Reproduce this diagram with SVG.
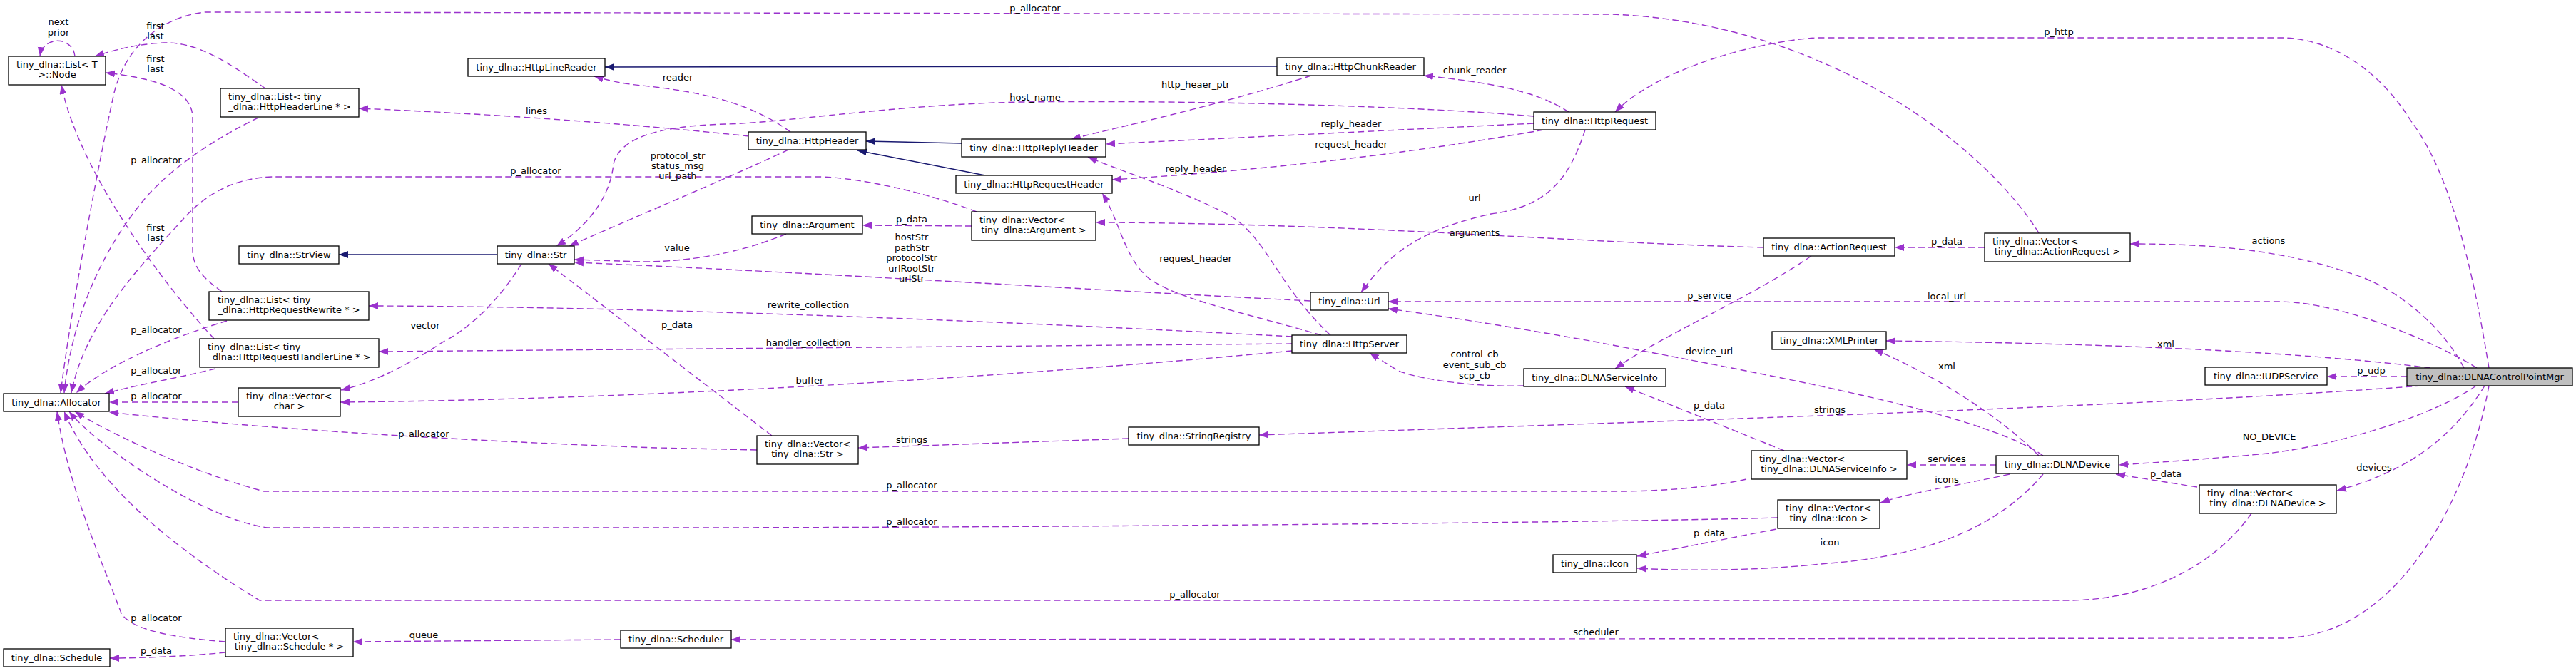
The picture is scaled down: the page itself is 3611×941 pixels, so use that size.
<svg xmlns="http://www.w3.org/2000/svg" width="3611" height="941" viewBox="0 0 3611 941">
<defs>
<marker id="ap" markerUnits="userSpaceOnUse" markerWidth="14" markerHeight="11" refX="13" refY="5" orient="auto"><path d="M0,0 L13,5 L0,10 z" fill="#9a32cd"/></marker>
<marker id="ab" markerUnits="userSpaceOnUse" markerWidth="14" markerHeight="11" refX="13" refY="5" orient="auto"><path d="M0,0 L13,5 L0,10 z" fill="#191970"/></marker>
</defs>
<style>
.nd rect{fill:#fff;stroke:#000;stroke-width:1.3}
.nd.root rect{fill:#bfbfbf}
.e{fill:none;stroke:#9a32cd;stroke-width:1.4;stroke-dasharray:9,5;marker-end:url(#ap)}
.i{fill:none;stroke:#191970;stroke-width:1.4;marker-end:url(#ab)}
text{font-family:"DejaVu Sans","Liberation Sans",sans-serif;font-size:13px;fill:#000}
.m{text-anchor:middle}
</style>
<rect x="0" y="0" width="3611" height="941" fill="#fff"/>
<g id="edges">
<path class="e" d="M105,79 C102,50 60,50 56,79"/>
<path class="e" d="M372,124 C330,95 280,58 230,60 C190,62 160,70 133,79"/>
<path class="e" d="M311,409 C285,390 270,375 270,350 L270,165 C270,120 200,108 148,102"/>
<path class="e" d="M300,475 C230,400 110,240 86,119"/>
<path class="e" d="M362,165 C300,195 230,240 190,295 C140,360 100,450 90,551"/>
<path class="e" d="M318,450 C250,470 150,510 107,551"/>
<path class="e" d="M302,517 C250,530 190,540 147,552"/>
<path class="e" d="M334,564 L153,564"/>
<path class="e" d="M1061,631 L920,628 C700,620 400,605 153,578"/>
<path class="e" d="M2448,672 C2400,683 2330,689 2269,689 L370,689 C260,660 140,600 105,577"/>
<path class="e" d="M2492,726 C2300,732 1500,740 900,740 L375,740 C280,727 130,620 97,577"/>
<path class="e" d="M3156,720 C3100,800 3000,842 2899,842 L364,842 C200,743 120,650 90,577"/>
<path class="e" d="M316,900 C250,895 185,885 170,860 C140,780 95,680 80,577"/>
<path class="e" d="M2858,327 C2780,200 2550,30 2258,20 L287,17 C220,25 175,70 160,130 C140,220 100,430 85,551"/>
<path class="e" d="M1369,297 C1300,270 1200,248 1146,248 L381,248 C330,250 290,270 257,307 C200,370 120,450 100,551"/>
<path class="e" d="M1050,191 C900,175 700,160 503,152"/>
<path class="e" d="M1108,185 C1060,150 1000,130 900,120 C870,117 850,112 833,107"/>
<path class="i" d="M1790,93 L848,94"/>
<path class="i" d="M1348,201 L1214,198"/>
<path class="i" d="M1381,246 L1202,211"/>
<path class="i" d="M697,357 L475,357"/>
<path class="e" d="M1838,106 C1700,150 1560,180 1502,195"/>
<path class="e" d="M2150,163 C2000,150 1700,140 1430,143 C1250,147 1100,172 1017,174 C950,176 870,185 860,230 C855,280 820,320 780,345"/>
<path class="e" d="M1105,210 C1020,250 900,300 798,345"/>
<path class="e" d="M1102,328 C1050,350 980,367 900,367 L805,364"/>
<path class="e" d="M1837,422 C1500,405 1100,380 805,368"/>
<path class="e" d="M1082,611 L769,370"/>
<path class="e" d="M731,370 C700,420 660,460 620,480 C560,520 510,540 478,547"/>
<path class="e" d="M1811,492 C1400,530 900,560 477,564"/>
<path class="e" d="M1811,472 C1400,450 900,430 517,429"/>
<path class="e" d="M1811,482 L531,493"/>
<path class="e" d="M1865,470 C1790,400 1775,330 1720,300 C1640,260 1570,240 1525,220"/>
<path class="e" d="M1852,470 C1750,440 1650,420 1610,390 C1575,360 1570,310 1545,271"/>
<path class="e" d="M2150,173 C1900,185 1700,195 1550,202"/>
<path class="e" d="M2164,182 C1950,220 1750,240 1559,252"/>
<path class="e" d="M2199,157 C2150,125 2080,115 1996,106"/>
<path class="e" d="M3489,516 C3470,400 3440,250 3380,170 C3330,90 3260,53 3197,53 L2545,53 C2450,60 2320,100 2264,157"/>
<path class="e" d="M2222,182 C2200,250 2170,290 2090,300 C2000,320 1950,350 1908,410"/>
<path class="e" d="M3472,516 C3440,495 3300,425 3197,423 L1946,423"/>
<path class="e" d="M2864,639 C2780,580 2500,530 2240,480 C2100,455 2000,440 1946,433"/>
<path class="e" d="M2472,347 C2200,340 1900,313 1536,312"/>
<path class="e" d="M1362,317 L1209,316"/>
<path class="e" d="M2539,359 C2450,420 2330,470 2264,517"/>
<path class="e" d="M2501,632 L2278,542"/>
<path class="e" d="M2136,541 C2080,543 2000,535 1960,520 L1920,495"/>
<path class="e" d="M3454,516 C3420,450 3350,400 3300,385 C3200,350 3100,342 2986,342"/>
<path class="e" d="M2782,347 L2656,347"/>
<path class="e" d="M3407,516 C3200,490 2900,481 2644,478"/>
<path class="e" d="M2858,639 C2800,580 2700,520 2627,490"/>
<path class="e" d="M3395,541 C3000,570 2500,585 1765,610"/>
<path class="e" d="M1582,615 L1203,628"/>
<path class="e" d="M3374,528 L3262,528"/>
<path class="e" d="M3471,541 C3400,590 3250,630 3167,637 C3080,645 3000,650 2970,652"/>
<path class="e" d="M3080,683 L2966,665"/>
<path class="e" d="M3483,541 C3440,610 3380,660 3276,688"/>
<path class="e" d="M2798,652 L2673,652"/>
<path class="e" d="M2817,665 C2750,680 2680,690 2636,705"/>
<path class="e" d="M2490,742 L2295,780"/>
<path class="e" d="M2864,665 C2800,740 2700,780 2563,790 C2450,802 2350,800 2295,797"/>
<path class="e" d="M3489,541 C3460,700 3360,895 3197,895 L1025,897"/>
<path class="e" d="M870,897 L495,900"/>
<path class="e" d="M316,915 C270,920 200,923 154,923"/>
</g>
<g id="labels">
<text class="m" x="82" y="35">next</text><text class="m" x="82" y="50">prior</text>
<text class="m" x="218" y="41">first</text><text class="m" x="218" y="55">last</text>
<text class="m" x="218" y="87">first</text><text class="m" x="218" y="101">last</text>
<text class="m" x="218" y="324">first</text><text class="m" x="218" y="338">last</text>
<text class="m" x="219" y="229">p_allocator</text>
<text class="m" x="219" y="467">p_allocator</text>
<text class="m" x="219" y="524">p_allocator</text>
<text class="m" x="219" y="560">p_allocator</text>
<text class="m" x="594" y="613">p_allocator</text>
<text class="m" x="219" y="871">p_allocator</text>
<text class="m" x="219" y="917">p_data</text>
<text class="m" x="594" y="895">queue</text>
<text class="m" x="596" y="461">vector</text>
<text class="m" x="752" y="160">lines</text>
<text class="m" x="950" y="113">reader</text>
<text class="m" x="1451" y="16">p_allocator</text>
<text class="m" x="751" y="244">p_allocator</text>
<text class="m" x="950" y="223">protocol_str</text><text class="m" x="950" y="237">status_msg</text><text class="m" x="950" y="251">url_path</text>
<text class="m" x="1451" y="141">host_name</text>
<text class="m" x="1676" y="123">http_heaer_ptr</text>
<text class="m" x="1676" y="241">reply_header</text>
<text class="m" x="1676" y="367">request_header</text>
<text class="m" x="949" y="352">value</text>
<text class="m" x="1278" y="312">p_data</text>
<text class="m" x="1278" y="337">hostStr</text><text class="m" x="1278" y="352">pathStr</text><text class="m" x="1278" y="366">protocolStr</text><text class="m" x="1278" y="381">urlRootStr</text><text class="m" x="1278" y="395">urlStr</text>
<text class="m" x="1133" y="432">rewrite_collection</text>
<text class="m" x="949" y="460">p_data</text>
<text class="m" x="1133" y="485">handler_collection</text>
<text class="m" x="1135" y="538">buffer</text>
<text class="m" x="1278" y="621">strings</text>
<text class="m" x="1278" y="685">p_allocator</text>
<text class="m" x="1278" y="736">p_allocator</text>
<text class="m" x="1675" y="838">p_allocator</text>
<text class="m" x="2067" y="103">chunk_reader</text>
<text class="m" x="1894" y="178">reply_header</text>
<text class="m" x="1894" y="207">request_header</text>
<text class="m" x="2067" y="282">url</text>
<text class="m" x="2067" y="331">arguments</text>
<text class="m" x="2396" y="419">p_service</text>
<text class="m" x="2729" y="420">local_url</text>
<text class="m" x="2396" y="497">device_url</text>
<text class="m" x="2067" y="501">control_cb</text><text class="m" x="2067" y="516">event_sub_cb</text><text class="m" x="2067" y="531">scp_cb</text>
<text class="m" x="2396" y="573">p_data</text>
<text class="m" x="2565" y="579">strings</text>
<text class="m" x="2396" y="752">p_data</text>
<text class="m" x="2565" y="765">icon</text>
<text class="m" x="2237" y="891">scheduler</text>
<text class="m" x="2886" y="49">p_http</text>
<text class="m" x="2729" y="343">p_data</text>
<text class="m" x="3180" y="342">actions</text>
<text class="m" x="3036" y="487">xml</text>
<text class="m" x="2729" y="518">xml</text>
<text class="m" x="3324" y="524">p_udp</text>
<text class="m" x="2729" y="648">services</text>
<text class="m" x="2729" y="677">icons</text>
<text class="m" x="3181" y="617">NO_DEVICE</text>
<text class="m" x="3036" y="669">p_data</text>
<text class="m" x="3328" y="660">devices</text>
</g>
<g id="n_node" class="nd"><rect x="12" y="79" width="136" height="40"/><text x="23" y="95">tiny_dlna::List&lt; T</text><text class="m" x="80" y="109">&gt;::Node</text></g>
<g id="n_headerline" class="nd"><rect x="309" y="124" width="194" height="40"/><text x="320" y="140">tiny_dlna::List&lt; tiny</text><text class="m" x="406" y="154">_dlna::HttpHeaderLine * &gt;</text></g>
<g id="n_linereader" class="nd"><rect x="656" y="82" width="192" height="25"/><text class="m" x="752" y="99">tiny_dlna::HttpLineReader</text></g>
<g id="n_chunkreader" class="nd"><rect x="1790" y="81" width="206" height="25"/><text class="m" x="1893" y="98">tiny_dlna::HttpChunkReader</text></g>
<g id="n_httpheader" class="nd"><rect x="1049" y="185" width="165" height="25"/><text class="m" x="1131.5" y="202">tiny_dlna::HttpHeader</text></g>
<g id="n_replyheader" class="nd"><rect x="1348" y="195" width="202" height="25"/><text class="m" x="1449" y="212">tiny_dlna::HttpReplyHeader</text></g>
<g id="n_requestheader" class="nd"><rect x="1340" y="246" width="219" height="25"/><text class="m" x="1449.5" y="263">tiny_dlna::HttpRequestHeader</text></g>
<g id="n_argument" class="nd"><rect x="1054" y="303" width="155" height="25"/><text class="m" x="1131.5" y="320">tiny_dlna::Argument</text></g>
<g id="n_vargument" class="nd"><rect x="1362" y="297" width="174" height="40"/><text x="1373" y="313">tiny_dlna::Vector&lt;</text><text class="m" x="1449" y="327"> tiny_dlna::Argument &gt;</text></g>
<g id="n_strview" class="nd"><rect x="335" y="345" width="140" height="25"/><text class="m" x="405" y="362">tiny_dlna::StrView</text></g>
<g id="n_str" class="nd"><rect x="697" y="345" width="108" height="25"/><text class="m" x="751" y="362">tiny_dlna::Str</text></g>
<g id="n_url" class="nd"><rect x="1837" y="410" width="109" height="25"/><text class="m" x="1891.5" y="427">tiny_dlna::Url</text></g>
<g id="n_rewrite" class="nd"><rect x="293" y="409" width="224" height="40"/><text x="305" y="425">tiny_dlna::List&lt; tiny</text><text class="m" x="405" y="439">_dlna::HttpRequestRewrite * &gt;</text></g>
<g id="n_handlerline" class="nd"><rect x="280" y="475" width="251" height="40"/><text x="291" y="491">tiny_dlna::List&lt; tiny</text><text class="m" x="405.5" y="505">_dlna::HttpRequestHandlerLine * &gt;</text></g>
<g id="n_httpserver" class="nd"><rect x="1811" y="470" width="161" height="25"/><text class="m" x="1891.5" y="487">tiny_dlna::HttpServer</text></g>
<g id="n_httprequest" class="nd"><rect x="2150" y="157" width="171" height="25"/><text class="m" x="2235.5" y="174">tiny_dlna::HttpRequest</text></g>
<g id="n_xmlprinter" class="nd"><rect x="2484" y="465" width="160" height="25"/><text class="m" x="2564" y="482">tiny_dlna::XMLPrinter</text></g>
<g id="n_actionrequest" class="nd"><rect x="2472" y="334" width="184" height="25"/><text class="m" x="2564" y="351">tiny_dlna::ActionRequest</text></g>
<g id="n_vactionrequest" class="nd"><rect x="2782" y="327" width="204" height="40"/><text x="2793" y="343">tiny_dlna::Vector&lt;</text><text class="m" x="2884" y="357"> tiny_dlna::ActionRequest &gt;</text></g>
<g id="n_vchar" class="nd"><rect x="334" y="544" width="143" height="40"/><text x="345" y="560">tiny_dlna::Vector&lt;</text><text class="m" x="405.5" y="574"> char &gt;</text></g>
<g id="n_allocator" class="nd"><rect x="5" y="552" width="148" height="25"/><text class="m" x="79" y="569">tiny_dlna::Allocator</text></g>
<g id="n_serviceinfo" class="nd"><rect x="2136" y="517" width="199" height="25"/><text class="m" x="2235.5" y="534">tiny_dlna::DLNAServiceInfo</text></g>
<g id="n_udp" class="nd"><rect x="3091" y="515" width="171" height="25"/><text class="m" x="3176.5" y="532">tiny_dlna::IUDPService</text></g>
<g id="n_mgr" class="nd root"><rect x="3374" y="516" width="232" height="25"/><text class="m" x="3490" y="533">tiny_dlna::DLNAControlPointMgr</text></g>
<g id="n_registry" class="nd"><rect x="1582" y="599" width="183" height="25"/><text class="m" x="1673.5" y="616">tiny_dlna::StringRegistry</text></g>
<g id="n_vstr" class="nd"><rect x="1061" y="611" width="142" height="40"/><text x="1072" y="627">tiny_dlna::Vector&lt;</text><text class="m" x="1132" y="641"> tiny_dlna::Str &gt;</text></g>
<g id="n_vserviceinfo" class="nd"><rect x="2455" y="632" width="218" height="40"/><text x="2466" y="648">tiny_dlna::Vector&lt;</text><text class="m" x="2564" y="662"> tiny_dlna::DLNAServiceInfo &gt;</text></g>
<g id="n_device" class="nd"><rect x="2798" y="639" width="172" height="25"/><text class="m" x="2884" y="656">tiny_dlna::DLNADevice</text></g>
<g id="n_vdevice" class="nd"><rect x="3083" y="680" width="192" height="40"/><text x="3094" y="696">tiny_dlna::Vector&lt;</text><text class="m" x="3179" y="710"> tiny_dlna::DLNADevice &gt;</text></g>
<g id="n_vicon" class="nd"><rect x="2492" y="701" width="143" height="40"/><text x="2503" y="717">tiny_dlna::Vector&lt;</text><text class="m" x="2563.5" y="731"> tiny_dlna::Icon &gt;</text></g>
<g id="n_icon" class="nd"><rect x="2177" y="778" width="117" height="25"/><text class="m" x="2235.5" y="795">tiny_dlna::Icon</text></g>
<g id="n_vschedule" class="nd"><rect x="316" y="881" width="179" height="40"/><text x="327" y="897">tiny_dlna::Vector&lt;</text><text class="m" x="405.5" y="911"> tiny_dlna::Schedule * &gt;</text></g>
<g id="n_schedule" class="nd"><rect x="5" y="910" width="149" height="25"/><text class="m" x="79.5" y="927">tiny_dlna::Schedule</text></g>
<g id="n_scheduler" class="nd"><rect x="870" y="884" width="155" height="25"/><text class="m" x="947.5" y="901">tiny_dlna::Scheduler</text></g>
</svg>
